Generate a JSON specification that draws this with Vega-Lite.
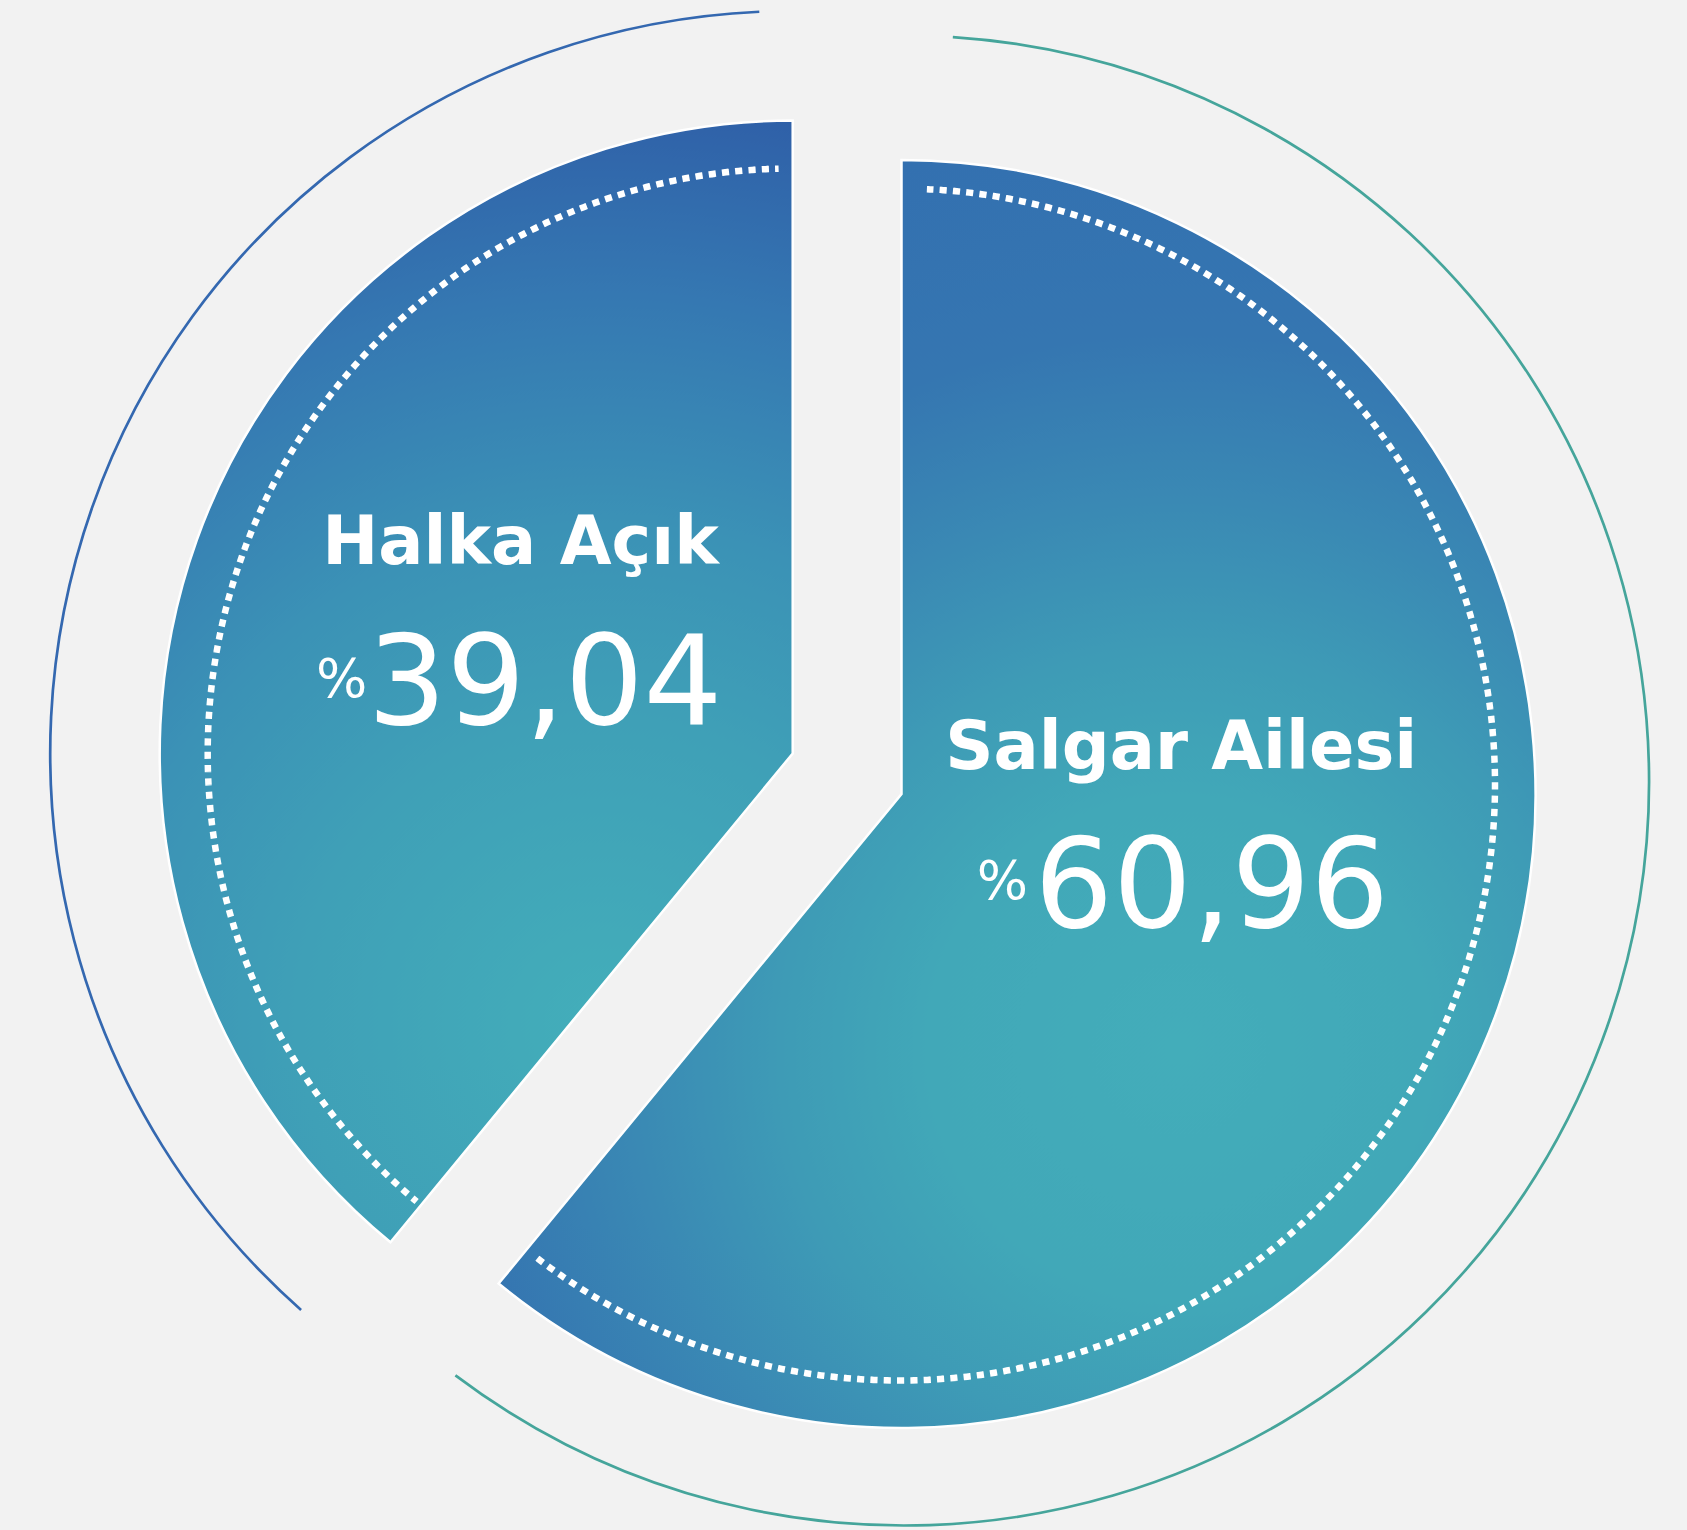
{
  "$schema": "https://vega.github.io/schema/vega-lite/v6.json",
  "width": 1687,
  "height": 1530,
  "autosize": {"type": "fit", "contains": "padding"},
  "padding": 0,
  "background": "#f2f2f2",
  "config": {
    "view": {"stroke": null},
    "locale": {"number": {"decimal": ",", "thousands": ".", "grouping": [3], "currency": ["₺", ""]}}
  },
  "data": {"values": [
    {"name": "Salgar Ailesi", "value": 60.96},
    {"name": "Halka Açık", "value": 39.04}
  ]},
  "transform": [
    {"stack": "value", "groupby": [], "as": ["v0", "v1"], "sort": [{"field": "value", "order": "descending"}]}
  ],
  "layer": [
    {
      "transform": [{"filter": "datum.name === 'Halka Açık'"}],
      "mark": {"type": "arc", "filled": false, "outerRadius": 742.5, "innerRadius": 742.5, "stroke": "#3468b0", "strokeWidth": 2.7, "thetaOffset": 0.035, "theta2Offset": -0.045, "xOffset": -50.8, "yOffset": -10},
      "encoding": {
        "theta": {"field": "v0", "type": "quantitative", "stack": null, "scale": {"domain": [0, 100]}},
        "theta2": {"field": "v1"}
      }
    },
    {
      "transform": [{"filter": "datum.name === 'Salgar Ailesi'"}],
      "mark": {"type": "arc", "filled": false, "outerRadius": 745, "innerRadius": 745, "stroke": "#45a59b", "strokeWidth": 2.7, "thetaOffset": 0.0656, "theta2Offset": -0.0425, "xOffset": 60.5, "yOffset": 17},
      "encoding": {
        "theta": {"field": "v0", "type": "quantitative", "stack": null, "scale": {"domain": [0, 100]}},
        "theta2": {"field": "v1"}
      }
    },
    {
      "transform": [{"filter": "datum.name === 'Halka Açık'"}],
      "mark": {"type": "arc", "outerRadius": 633, "innerRadius": 0, "stroke": "white", "strokeWidth": 2.5, "xOffset": -50.8, "yOffset": -10,
        "fill": {"gradient": "radial", "x1": 0.612, "y1": 0.804, "r1": 0, "x2": 0.612, "y2": 0.804, "r2": 0.821,
          "stops": [
            {"offset": 0, "color": "#43aeba"},
            {"offset": 0.33, "color": "#3fa0b7"},
            {"offset": 0.54, "color": "#3b92b6"},
            {"offset": 0.79, "color": "#3578b2"},
            {"offset": 1, "color": "#2f60a8"}
          ]}},
      "encoding": {
        "theta": {"field": "v0", "type": "quantitative", "stack": null, "scale": {"domain": [0, 100]}},
        "theta2": {"field": "v1"}
      }
    },
    {
      "transform": [{"filter": "datum.name === 'Salgar Ailesi'"}],
      "mark": {"type": "arc", "outerRadius": 634, "innerRadius": 0, "stroke": "white", "strokeWidth": 2.5, "xOffset": 58, "yOffset": 30.5,
        "fill": {"gradient": "radial", "x1": 0.628, "y1": 0.701, "r1": 0, "x2": 0.628, "y2": 0.701, "r2": 0.733,
          "stops": [
            {"offset": 0, "color": "#43adba"},
            {"offset": 0.27, "color": "#41a8b8"},
            {"offset": 0.43, "color": "#3e9bb6"},
            {"offset": 0.59, "color": "#3a89b4"},
            {"offset": 0.77, "color": "#3576b1"},
            {"offset": 1, "color": "#3370b0"}
          ]}},
      "encoding": {
        "theta": {"field": "v0", "type": "quantitative", "stack": null, "scale": {"domain": [0, 100]}},
        "theta2": {"field": "v1"}
      }
    },
    {
      "transform": [{"filter": "datum.name === 'Halka Açık'"}],
      "mark": {"type": "arc", "filled": false, "outerRadius": 585, "innerRadius": 585, "stroke": "white", "strokeWidth": 6.5, "strokeCap": "butt", "strokeDash": [6.5, 6.83], "strokeDashOffset": 0.97, "thetaOffset": 0.0096, "theta2Offset": -0.0241, "xOffset": -50.8, "yOffset": -10},
      "encoding": {
        "theta": {"field": "v0", "type": "quantitative", "stack": null, "scale": {"domain": [0, 100]}},
        "theta2": {"field": "v1"}
      }
    },
    {
      "transform": [{"filter": "datum.name === 'Salgar Ailesi'"}],
      "mark": {"type": "arc", "filled": false, "outerRadius": 596, "innerRadius": 596, "stroke": "white", "strokeWidth": 6.5, "strokeCap": "butt", "strokeDash": [6.5, 6.83], "strokeDashOffset": 13.195, "thetaOffset": 0.0468, "theta2Offset": -0.0315, "xOffset": 55.5, "yOffset": 21},
      "encoding": {
        "theta": {"field": "v0", "type": "quantitative", "stack": null, "scale": {"domain": [0, 100]}},
        "theta2": {"field": "v1"}
      }
    },
    {
      "transform": [{"filter": "datum.name === 'Halka Açık'"}],
      "mark": {"type": "text", "font": "DejaVu Sans", "fontWeight": "bold", "fontSize": 67, "fill": "white", "align": "center", "baseline": "alphabetic", "dx": -323, "dy": -200},
      "encoding": {"text": {"field": "name"}}
    },
    {
      "transform": [{"filter": "datum.name === 'Halka Açık'"}],
      "mark": {"type": "text", "font": "DejaVu Sans", "fontSize": 54, "fill": "white", "align": "center", "baseline": "alphabetic", "dx": -501.8, "dy": -67},
      "encoding": {"text": {"value": "%"}}
    },
    {
      "transform": [{"filter": "datum.name === 'Halka Açık'"}],
      "mark": {"type": "text", "font": "DejaVu Sans", "fontSize": 124, "fill": "white", "align": "center", "baseline": "alphabetic", "dx": -298.5, "dy": -40},
      "encoding": {"text": {"field": "value", "type": "quantitative", "format": ".2f"}}
    },
    {
      "transform": [{"filter": "datum.name === 'Salgar Ailesi'"}],
      "mark": {"type": "text", "font": "DejaVu Sans", "fontWeight": "bold", "fontSize": 67, "fill": "white", "align": "center", "baseline": "alphabetic", "dx": 337.8, "dy": 5},
      "encoding": {"text": {"field": "name"}}
    },
    {
      "transform": [{"filter": "datum.name === 'Salgar Ailesi'"}],
      "mark": {"type": "text", "font": "DejaVu Sans", "fontSize": 54, "fill": "white", "align": "center", "baseline": "alphabetic", "dx": 159, "dy": 135.7},
      "encoding": {"text": {"value": "%"}}
    },
    {
      "transform": [{"filter": "datum.name === 'Salgar Ailesi'"}],
      "mark": {"type": "text", "font": "DejaVu Sans", "fontSize": 124, "fill": "white", "align": "center", "baseline": "alphabetic", "dx": 368.2, "dy": 163.3},
      "encoding": {"text": {"field": "value", "type": "quantitative", "format": ".2f"}}
    }
  ]
}
